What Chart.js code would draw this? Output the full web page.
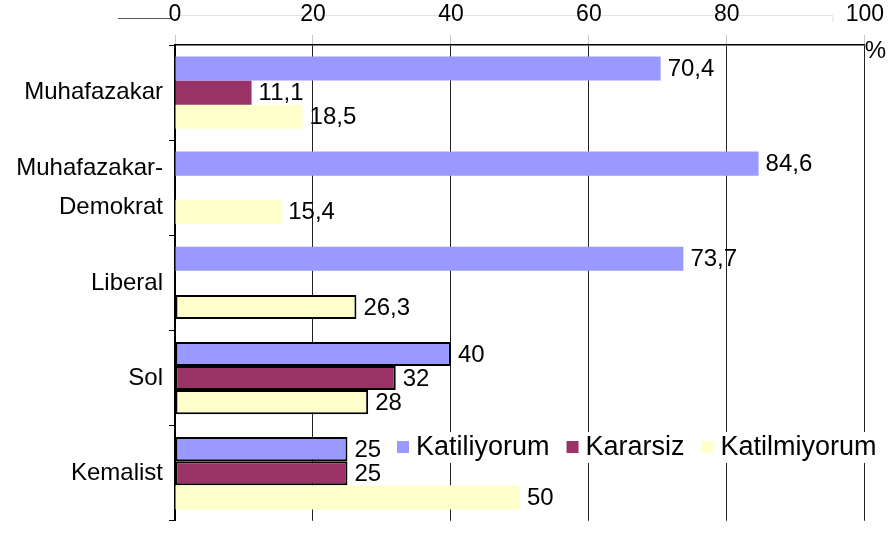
<!DOCTYPE html>
<html>
<head>
<meta charset="utf-8">
<script src="https://cdn.jsdelivr.net/npm/chart.js@4/dist/chart.umd.min.js"></script>
<style>
  html, body { margin: 0; padding: 0; background: #fff; }
  #wrap { width: 891px; height: 546px; }
</style>
</head>
<body>
<div id="wrap"><canvas id="grafik"></canvas></div>
<script>
// kategoriler ve seriler
var kategoriler = [['Muhafazakar'], ['Muhafazakar-', 'Demokrat'], ['Liberal'], ['Sol'], ['Kemalist']];
var seriAdlari = ['Katiliyorum', 'Kararsiz', 'Katilmiyorum'];
var katiliyorum = [70.4, 84.6, 73.7, 40, 25];
var kararsiz = [11.1, null, null, 32, 25];
var katilmiyorum = [18.5, 15.4, 26.3, 28, 50];
var eksenEtiketleri = [0, 20, 40, 60, 80, 100];

// siyah çerçeveli çubuklar (seri -> kategori indeksleri)
var cerceveli = { 0: [3, 4], 1: [3, 4], 2: [2, 3] };

var renkler = ['#9999FF', '#993366', '#FFFFCC'];
var yazi = "'Liberation Sans', Arial, sans-serif";

function cerceve(ctx) {
  var liste = cerceveli[ctx.datasetIndex] || [];
  return liste.indexOf(ctx.dataIndex) >= 0 ? 2 : 0;
}

// veri etiketleri, % işareti ve lejant
var eklenti = {
  id: 'etiketler',
  beforeDraw: function (chart) {
    // üstteki soluk kayık çizgi
    var c = chart.ctx;
    var alan = chart.chartArea;
    c.save();
    c.strokeStyle = '#555';
    c.lineWidth = 1;
    c.beginPath();
    c.moveTo(alan.left - 57, 18.5);
    c.lineTo(alan.left - 2, 18.5);
    c.stroke();
    c.strokeStyle = '#e2e2e2';
    c.beginPath();
    c.moveTo(alan.left - 2, 15.5);
    c.lineTo(alan.right - 32, 15.5);
    c.lineTo(alan.right - 32, 22);
    c.stroke();
    c.restore();
  },
  afterDatasetsDraw: function (chart) {
    var c = chart.ctx;
    c.save();
    c.font = '24px ' + yazi;
    c.fillStyle = '#000';
    c.textAlign = 'left';
    c.textBaseline = 'middle';
    chart.data.datasets.forEach(function (ds, i) {
      var meta = chart.getDatasetMeta(i);
      meta.data.forEach(function (el, j) {
        var v = ds.data[j];
        if (v === null || v === undefined) return;
        c.fillText(String(v).replace('.', ','), el.x + 7, el.y + 1);
      });
    });
    c.restore();
  },
  afterDraw: function (chart) {
    var c = chart.ctx;
    var alan = chart.chartArea;
    c.save();
    // % işareti
    c.font = '24px ' + yazi;
    c.fillStyle = '#000';
    c.textAlign = 'left';
    c.textBaseline = 'middle';
    c.fillText('%', alan.right, alan.top + 6);

    // lejant
    c.font = '27px ' + yazi;
    var x = alan.left + 222;
    var y = 447;
    var toplam = 0;
    chart.data.datasets.forEach(function (ds) {
      toplam += 19 + c.measureText(ds.label).width + 17;
    });
    c.fillStyle = '#fff';
    c.fillRect(x - 6, y - 15, toplam, 31);
    chart.data.datasets.forEach(function (ds) {
      c.fillStyle = ds.backgroundColor;
      c.fillRect(x, y - 6, 12, 12);
      c.fillStyle = '#000';
      c.fillText(ds.label, x + 19, y + 1);
      x += 19 + c.measureText(ds.label).width + 17;
    });
    c.restore();
  }
};

var seriler = [katiliyorum, kararsiz, katilmiyorum].map(function (d, i) {
  return {
    label: seriAdlari[i],
    data: d,
    backgroundColor: renkler[i],
    borderColor: '#000',
    borderWidth: cerceve,
    borderSkipped: false,
    categoryPercentage: 0.76,
    barPercentage: 1.0
  };
});

new Chart(document.getElementById('grafik').getContext('2d'), {
  type: 'bar',
  data: { labels: kategoriler, datasets: seriler },
  options: {
    indexAxis: 'y',
    responsive: true,
    maintainAspectRatio: false,
    animation: false,
    layout: { padding: { left: 0, right: 24, top: 0, bottom: 6 } },
    plugins: {
      legend: { display: false },
      tooltip: { enabled: false }
    },
    scales: {
      x: {
        position: 'top',
        min: 0,
        max: 100,
        afterBuildTicks: function (s) {
          s.ticks = eksenEtiketleri.map(function (v) { return { value: v }; });
        },
        afterFit: function (s) { s.height = 45; },
        ticks: {
          font: { size: 23, family: yazi },
          color: '#000',
          padding: 7
        },
        grid: {
          color: '#222',
          lineWidth: 1,
          tickColor: '#c8c8c8',
          tickLength: 10
        },
        border: { color: '#000', width: 1.5 }
      },
      y: {
        afterFit: function (s) { s.width = 175; },
        ticks: {
          font: { size: 24, family: yazi, lineHeight: 1.6 },
          color: '#000',
          padding: 6
        },
        grid: {
          offset: true,
          drawOnChartArea: false,
          color: '#000',
          tickLength: 6
        },
        border: { color: '#000', width: 2 }
      }
    }
  },
  plugins: [eklenti]
});
</script>
</body>
</html>
